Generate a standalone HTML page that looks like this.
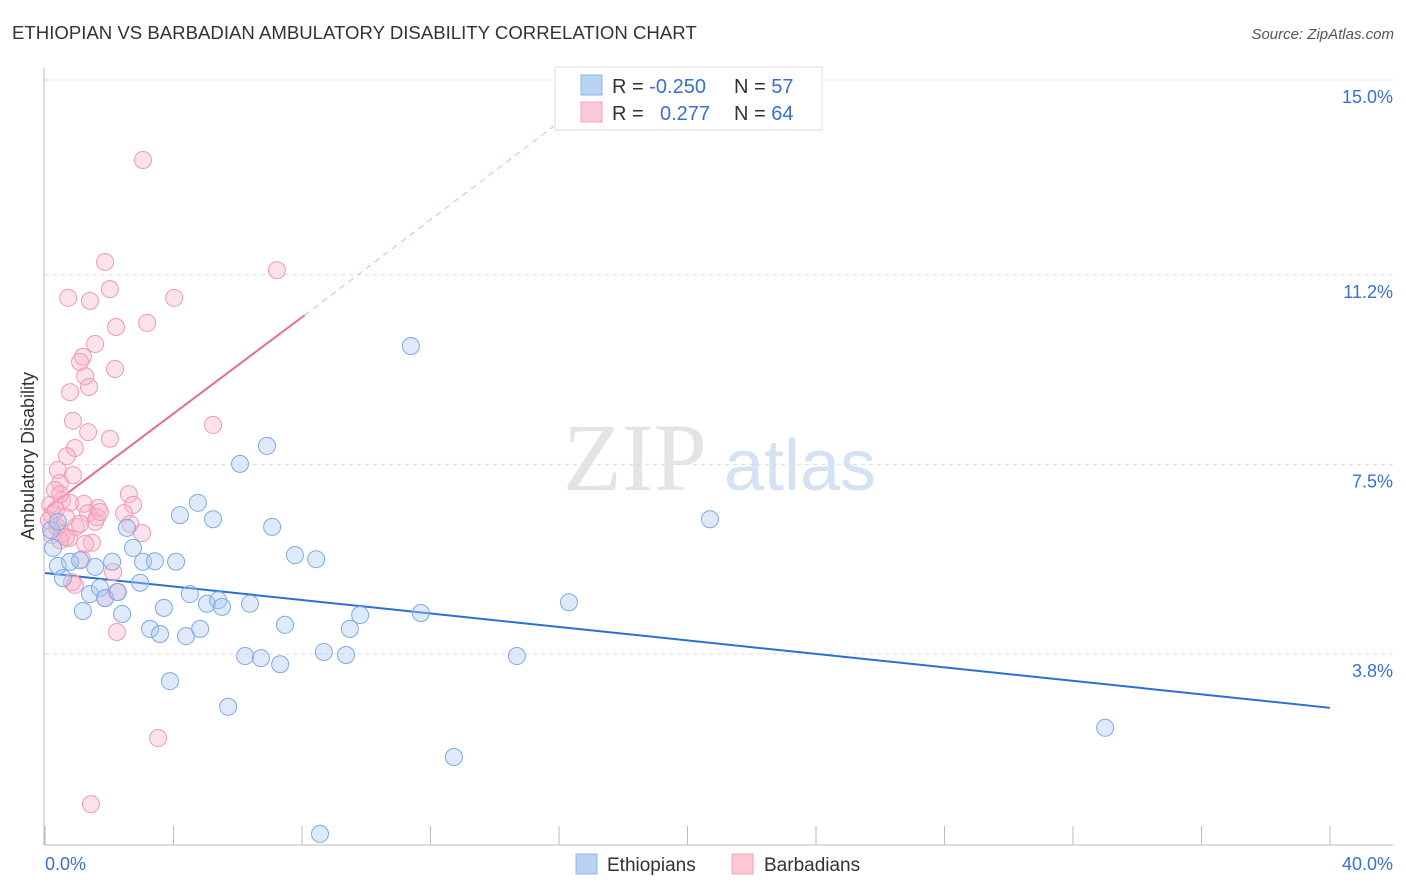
<!DOCTYPE html>
<html><head><meta charset="utf-8"><style>
body{margin:0;background:#fff;font-family:"Liberation Sans",sans-serif;}
svg{display:block}
</style></head><body>
<svg id="chart" width="1406" height="892">
<text x="12" y="39" font-size="18.6" fill="#333">ETHIOPIAN VS BARBADIAN AMBULATORY DISABILITY CORRELATION CHART</text>
<text x="1394" y="39" font-size="15" fill="#555" font-style="italic" text-anchor="end">Source: ZipAtlas.com</text>
<text x="34" y="456" font-size="18" fill="#333" text-anchor="middle" transform="rotate(-90 34 456)">Ambulatory Disability</text>
<g><text x="635" y="490" font-size="96" fill="#e4e4e4" font-family="Liberation Serif,serif" text-anchor="middle">ZIP</text><text x="800" y="490" font-size="72" fill="#d4e2f4" text-anchor="middle">atlas</text></g>
<g id="grid"></g><g id="axes"></g><g id="lines"></g><g id="pts"></g>
<g>
<rect x="555" y="67" width="267" height="63" fill="#fff" stroke="#ddd"/>
<rect x="581" y="75" width="21" height="20" fill="#b8d3f5" stroke="#8db6ea"/>
<rect x="581" y="102" width="21" height="20" fill="#fbc8d6" stroke="#f2a3bb"/>
<text x="612" y="93" font-size="20" fill="#333">R = <tspan fill="#3a6fd0">-0.250</tspan></text>
<text x="734" y="93" font-size="20" fill="#333">N = <tspan fill="#3a6fd0">57</tspan></text>
<text x="612" y="120" font-size="20" fill="#333">R = </text><text x="660" y="120" font-size="20" fill="#3a6fd0">0.277</text>
<text x="734" y="120" font-size="20" fill="#333">N = <tspan fill="#3a6fd0">64</tspan></text>
</g>
<g>
<rect x="576" y="854" width="21" height="20" fill="#b8d3f5" stroke="#8db6ea"/>
<text x="607" y="871" font-size="19" fill="#333">Ethiopians</text>
<rect x="732" y="854" width="21" height="20" fill="#fbc8d6" stroke="#f2a3bb"/>
<text x="764" y="871" font-size="19" fill="#333">Barbadians</text>
</g>
</svg>
<script>
const yTicks=[15.0,11.2,7.5,3.8];
const xTickLabels=["0.0%","40.0%"];
const blueX=[0.25,0.40,0.56,0.78,1.18,1.09,1.40,1.56,1.71,1.87,2.09,2.27,2.40,2.55,2.74,2.96,3.05,3.27,3.42,3.58,3.70,3.89,4.08,4.20,4.39,4.51,4.76,4.83,5.04,5.23,5.39,5.51,5.70,6.07,6.23,6.38,6.72,6.91,7.07,7.32,7.47,7.78,8.44,8.56,8.68,9.37,9.49,9.81,11.39,11.70,12.73,14.69,16.31,20.70,33.00,0.19,0.40];
const blueY=[5.87,5.52,5.28,5.60,4.64,5.63,4.97,5.50,5.09,4.89,5.60,5.01,4.58,6.26,5.87,5.19,5.60,4.29,5.61,4.19,4.70,3.27,5.60,6.51,4.15,4.97,6.75,4.29,4.78,6.43,4.85,4.72,2.77,7.51,3.76,4.78,3.72,7.86,6.28,3.60,4.37,5.73,5.65,0.29,3.84,3.78,4.29,4.56,9.81,4.60,1.79,3.76,4.81,6.43,2.36,6.22,6.38];
const pinkX=[3.05,7.22,1.87,0.72,1.40,2.02,4.02,3.18,2.21,1.56,1.18,1.09,2.18,1.25,1.37,0.78,0.87,5.23,1.34,2.02,0.93,0.68,0.40,0.47,0.31,0.53,2.61,1.21,1.65,0.78,0.22,1.34,1.56,2.74,2.46,0.37,0.96,2.65,3.02,0.53,0.75,1.46,1.25,1.15,2.12,0.84,0.93,1.87,2.24,2.24,3.52,1.43,0.16,0.12,0.22,0.47,0.65,1.09,1.62,0.87,0.34,0.65,0.47,1.71];
const pinkY=[13.44,11.29,11.45,10.75,10.69,10.92,10.75,10.26,10.18,9.85,9.60,9.50,9.36,9.22,9.01,8.91,8.35,8.27,8.13,8.00,7.82,7.66,7.39,7.14,7.00,6.80,6.92,6.73,6.65,6.75,6.51,6.55,6.38,6.71,6.55,6.28,6.28,6.34,6.16,6.14,6.06,5.97,5.95,5.65,5.40,5.20,5.15,4.89,5.01,4.23,2.16,0.87,6.71,6.41,6.12,6.02,6.08,6.34,6.47,7.29,6.61,6.47,6.92,6.57];
const blueTrend=[[0,5.38],[40,2.75]];
const pinkTrend=[[0,6.61],[8.08,10.41]];
const pinkDash=[[8.08,10.41],[15.84,14.1]];
const X=v=>45+v*32.125, Y=v=>80+(15-v)*51.25;
const NS="http://www.w3.org/2000/svg";
function mk(t,p,a){const e=document.createElementNS(NS,t);for(const k in a)e.setAttribute(k,a[k]);document.getElementById(p).appendChild(e);return e;}
yTicks.forEach(v=>{
 const l=mk('line','grid',{x1:45,x2:1393,y1:Y(v),y2:Y(v),stroke:'#ddd','stroke-dasharray':'4,4'});
 
 
 const t=mk('text','grid',{x:1393,y:Y(v)+23,'font-size':18,fill:'#3a6fd0','text-anchor':'end'});t.textContent=v.toFixed(1)+'%';
 
 
});
const ax=mk('line','axes',{x1:45,x2:1393,y1:845,y2:845,stroke:'#bbb'});


const ay=mk('line','axes',{x1:44,x2:44,y1:68,y2:845,stroke:'#bbb'});


for(let i=0;i<=10;i++){const t=mk('line','axes',{x1:X(i*4),x2:X(i*4),y1:826,y2:845,stroke:'#bbb'});
 
 }
[[0,'start',45],[40,'end',1393]].forEach((d,i)=>{const t=mk('text','axes',{x:d[2],y:870,'font-size':18,fill:'#3a6fd0','text-anchor':d[1]});t.textContent=xTickLabels[i];
 
 });
function pts(xs,ys,fill,stroke,name){xs.forEach((x,i)=>{const c=mk('circle','pts',{cx:X(x),cy:Y(ys[i]),r:8.5,fill:fill,'fill-opacity':0.38,stroke:stroke,'stroke-width':1});
 
 });}
pts(pinkX,pinkY,'#f7b3c7','#f09ab5','barbadian-point');
pts(blueX,blueY,'#a9c9f2','#7eaae6','ethiopian-point');
const b=mk('line','lines',{x1:X(blueTrend[0][0]),y1:Y(blueTrend[0][1]),x2:X(blueTrend[1][0]),y2:Y(blueTrend[1][1]),stroke:'#2a6fd6','stroke-width':2});


const p=mk('line','lines',{x1:X(pinkTrend[0][0]),y1:Y(pinkTrend[0][1]),x2:X(pinkTrend[1][0]),y2:Y(pinkTrend[1][1]),stroke:'#e8689a','stroke-width':2});


const pd=mk('line','lines',{x1:X(pinkDash[0][0]),y1:Y(pinkDash[0][1]),x2:X(pinkDash[1][0]),y2:Y(pinkDash[1][1]),stroke:'#eeb0c4','stroke-width':1,'stroke-dasharray':'6,5'});


</script>
</body></html>
